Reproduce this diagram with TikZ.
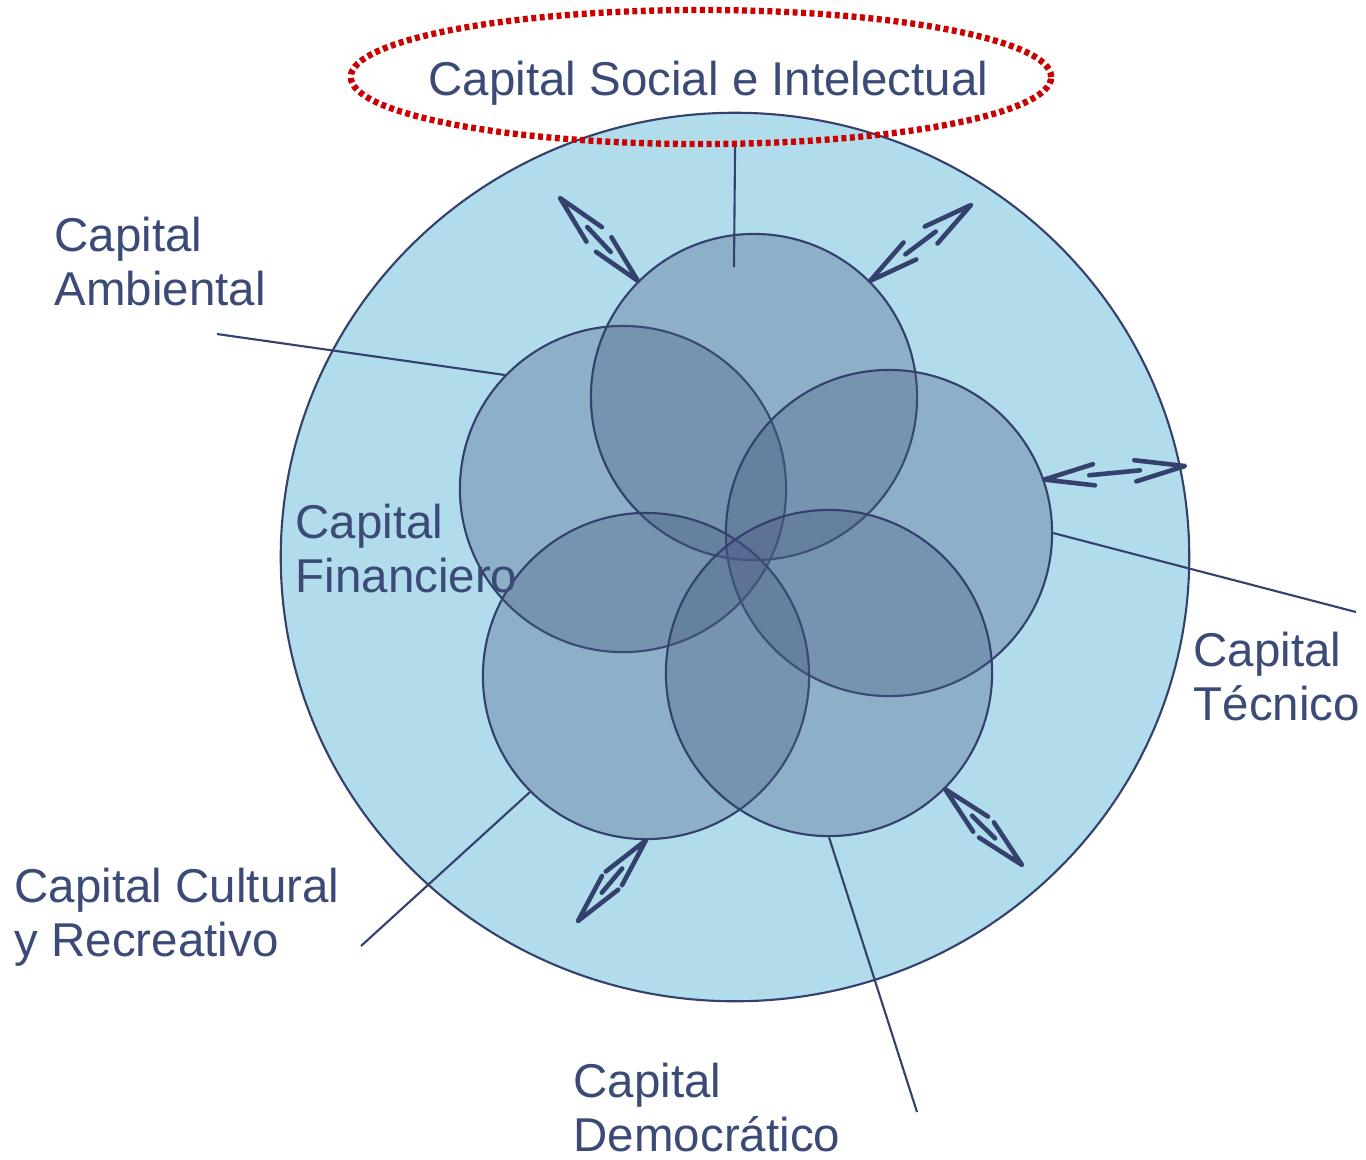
\documentclass[tikz,border=0pt]{standalone}
\usepackage{fontspec}
\setmainfont{Liberation Sans}
\usetikzlibrary{calc,shapes.geometric}

\definecolor{navy}{RGB}{52,64,110}
\definecolor{txtblue}{RGB}{59,74,119}
\definecolor{skyfill}{RGB}{177,220,236}
\definecolor{capfill}{RGB}{74,92,131}
\definecolor{dotred}{RGB}{204,0,0}

\tikzset{
  capital/.style={circle, draw=navy, line width=0.6pt, fill=capfill,
    fill opacity=0.34, minimum size=3.26cm},
  lbl/.style={anchor=north west, inner sep=0pt, align=left, text=txtblue,
    font=\fontsize{13.5}{15.4}\selectfont},
  lead/.style={draw=navy, line width=0.6pt},
  arr/.style={draw=navy, line width=1.3pt, line cap=round, line join=round}
}

\begin{document}
\begin{tikzpicture}[x=0.01cm, y=-0.01cm]
\useasboundingbox (0,0) rectangle (1366,1159);
% outer circle
\node[ellipse, draw=navy, line width=0.6pt, fill=skyfill,
    minimum width=9.08cm, minimum height=8.88cm] (all) at (735,557) {};
% the five capitals
\node[capital] (cw) at (623,489) {};
\node[capital] (cn) at (754,397) {};
\node[capital] (ce) at (889,533) {};
\node[capital] (csw) at (646,676) {};
\node[capital] (cse) at (829,673) {};
% dotted title ring
\node[ellipse, draw=dotred, line width=1.8pt, dash pattern=on 1.4pt off 1pt,
    minimum width=7cm, minimum height=1.34cm] (soc) at (701,77) {};
\node[lbl] (tsoc) at (428,60) {Capital Social e Intelectual};
% labels
\node[lbl] (tamb) at (54,216) {Capital\\Ambiental};
\node[lbl] (tfin) at (295,503) {Capital\\Financiero};
\node[lbl] (ttec) at (1193,631) {Capital\\Técnico};
\node[lbl] (tcul) at (14,867) {Capital Cultural\\y Recreativo};
\node[lbl] (tdem) at (573,1062) {Capital\\Democrático};
% leader lines
\coordinate (lsoc) at (734,267);
\coordinate (lamb) at (217,334);
\coordinate (ltec) at (1356,612);
\coordinate (lcul) at (361,946);
\coordinate (ldem) at (917,1112);
\draw[lead] (soc.-64) -- (lsoc);
\draw[lead] (lamb) -- (cw.136);
\draw[lead] (ce.0) -- (ltec);
\draw[lead] (csw.-135) -- (lcul);
\draw[lead] (cse.-90) -- (ldem);
% exchange arrows
\coordinate (a1) at (560,198);
\coordinate (a2) at (971,205);
\coordinate (a3) at (1185,466);
\coordinate (a4) at (578,921);
\coordinate (a5) at (1022,865);
\draw[arr] ($(a1)!0.51cm!12:(cn.135)$) -- (a1) -- ($(a1)!0.51cm!-12:(cn.135)$)
  ($(cn.135)!0.51cm!12:(a1)$) -- (cn.135) -- ($(cn.135)!0.51cm!-12:(a1)$)
  ($(a1)!0.35!(cn.135)$) -- ($(a1)!0.65!(cn.135)$);
\draw[arr] ($(a2)!0.51cm!12:(cn.45)$) -- (a2) -- ($(a2)!0.51cm!-12:(cn.45)$)
  ($(cn.45)!0.51cm!12:(a2)$) -- (cn.45) -- ($(cn.45)!0.51cm!-12:(a2)$)
  ($(a2)!0.35!(cn.45)$) -- ($(a2)!0.65!(cn.45)$);
\draw[arr] ($(a3)!0.51cm!12:(ce.19)$) -- (a3) -- ($(a3)!0.51cm!-12:(ce.19)$)
  ($(ce.19)!0.51cm!12:(a3)$) -- (ce.19) -- ($(ce.19)!0.51cm!-12:(a3)$)
  ($(a3)!0.32!(ce.19)$) -- ($(a3)!0.68!(ce.19)$);
\draw[arr] ($(a4)!0.51cm!12:(csw.-90)$) -- (a4) -- ($(a4)!0.51cm!-12:(csw.-90)$)
  ($(csw.-90)!0.51cm!12:(a4)$) -- (csw.-90) -- ($(csw.-90)!0.51cm!-12:(a4)$)
  ($(a4)!0.35!(csw.-90)$) -- ($(a4)!0.65!(csw.-90)$);
\draw[arr] ($(a5)!0.51cm!12:(cse.-45)$) -- (a5) -- ($(a5)!0.51cm!-12:(cse.-45)$)
  ($(cse.-45)!0.51cm!12:(a5)$) -- (cse.-45) -- ($(cse.-45)!0.51cm!-12:(a5)$)
  ($(a5)!0.35!(cse.-45)$) -- ($(a5)!0.65!(cse.-45)$);
\end{tikzpicture}
\end{document}
